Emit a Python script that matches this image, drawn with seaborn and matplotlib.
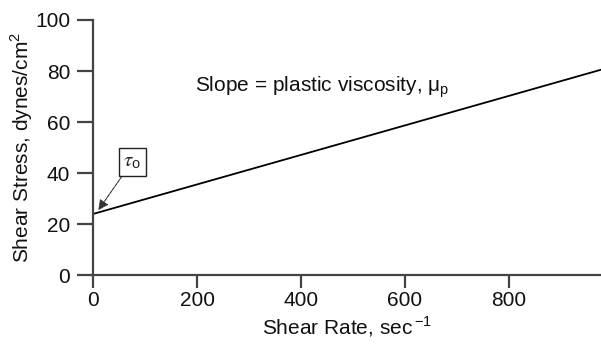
import matplotlib
matplotlib.use("Agg")
import matplotlib.pyplot as plt
import seaborn as sns

# Bingham plastic line
shear_rate = [0, 977]
shear_stress = [24, 80.5]
x_ticks = [0, 200, 400, 600, 800]
y_ticks = [0, 20, 40, 60, 80, 100]

sns.set_style("ticks")
plt.rcParams["font.family"] = ["Liberation Sans", "DejaVu Sans"]

fig = plt.figure(figsize=(6.01, 3.44), dpi=100)
ax = fig.add_axes([0.155, 0.2, 0.845, 0.742])

sns.lineplot(x=shear_rate, y=shear_stress, ax=ax, color="black", linewidth=1.3)

ax.set_xlim(0, 977)
ax.set_ylim(0, 100)
ax.set_xticks(x_ticks)
ax.set_yticks(y_ticks)
ax.tick_params(axis="both", labelsize=15, colors="#444444", width=1.6, labelcolor="#111111")
ax.tick_params(axis="y", length=11.5, pad=5)
ax.tick_params(axis="x", length=9.5, pad=2)
for side in ["top", "right"]:
    ax.spines[side].set_visible(False)
for side in ["left", "bottom"]:
    ax.spines[side].set_linewidth(1.6)
    ax.spines[side].set_color("#444444")

ax.set_xlabel("Shear Rate, sec$^{\\,\\mathregular{-1}}$", fontsize=15, labelpad=3, color="#111111")
ax.set_ylabel("Shear Stress, dynes/cm$^\\mathregular{2}$", fontsize=15, labelpad=0, color="#111111")

ax.text(196, 73.5, "Slope = plastic viscosity, $\\mathregular{\\mu_p}$", fontsize=15,
        va="center", ha="left", color="#111111")
ax.annotate("$\\tau_\\mathregular{o}$", xy=(10, 25.5), xytext=(75, 44.5), fontsize=15,
            ha="center", va="center", math_fontfamily="stix",
            bbox=dict(boxstyle="square,pad=0.22", fc="white", ec="#222222", lw=1),
            arrowprops=dict(arrowstyle="-|>", color="#333333", lw=0.8, linestyle=(0, (3, 1)),
                            shrinkA=0, shrinkB=0))

fig.savefig("out.png", dpi=100)
